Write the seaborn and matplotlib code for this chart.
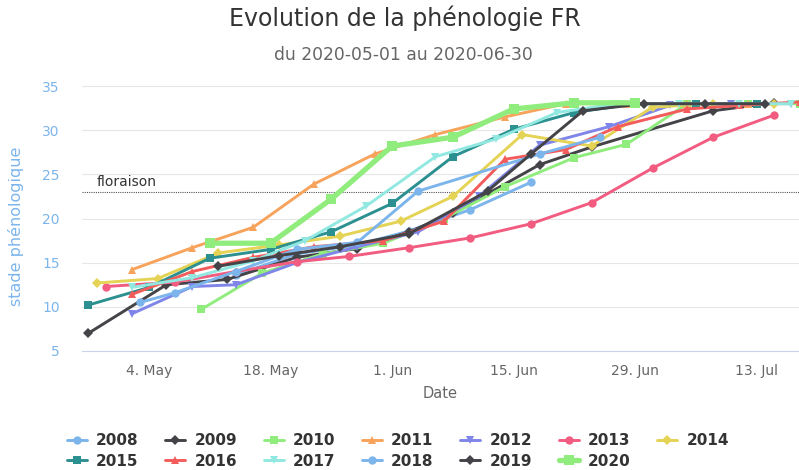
import pandas as pd
import numpy as np
import matplotlib.pyplot as plt
import matplotlib.dates as mdates
import matplotlib.transforms as mtransforms
from matplotlib.ticker import FixedLocator
import seaborn as sns

# Series values (dates are month-day, plotted on 2020)
years = ["2008", "2009", "2010", "2011", "2012", "2013", "2014",
         "2015", "2016", "2017", "2018", "2019", "2020"]

d2008 = ["05-14", "05-21", "05-28", "06-03", "06-10", "06-17"]
v2008 = [13.6, 16.0, 17.0, 18.6, 21.0, 24.1]

d2009 = ["04-27", "05-06", "05-13", "05-21", "05-28", "06-03", "06-08", "06-18", "06-24", "07-08", "07-15"]
v2009 = [7.0, 12.5, 13.1, 15.6, 16.6, 18.5, 20.6, 26.1, 28.1, 32.2, 33.1]

d2010 = ["05-10", "05-17", "05-24", "05-31", "06-07", "06-14", "06-22", "06-28", "07-05", "07-12", "07-18"]
v2010 = [9.7, 13.8, 16.0, 17.2, 20.0, 23.6, 26.9, 28.4, 33.0, 33.0, 33.0]

d2011 = ["05-02", "05-09", "05-16", "05-23", "05-30", "06-06", "06-14", "06-21", "06-28", "07-05", "07-12"]
v2011 = [14.2, 16.7, 19.0, 23.9, 27.3, 29.5, 31.5, 33.0, 33.0, 33.0, 33.0]

d2012 = ["05-02", "05-09", "05-14", "05-21", "05-28", "06-04", "06-11", "06-18", "06-26", "07-03", "07-10", "07-17"]
v2012 = [9.2, 12.3, 12.5, 15.0, 16.8, 18.5, 22.5, 28.3, 30.4, 32.8, 33.0, 33.0]

d2013 = ["04-29", "05-07", "05-14", "05-21", "05-27", "06-03", "06-10", "06-17", "06-24", "07-01", "07-08", "07-15"]
v2013 = [12.3, 12.8, 14.0, 15.1, 15.7, 16.7, 17.8, 19.4, 21.8, 25.7, 29.2, 31.7]

d2014 = ["04-28", "05-05", "05-12", "05-19", "05-26", "06-02", "06-08", "06-16", "06-24", "07-01", "07-08", "07-15"]
v2014 = [12.7, 13.2, 16.1, 17.0, 18.0, 19.7, 22.5, 29.5, 28.2, 32.6, 33.0, 33.0]

d2015 = ["04-27", "05-04", "05-11", "05-18", "05-25", "06-01", "06-08", "06-15", "06-22", "06-29", "07-06", "07-13"]
v2015 = [10.2, 12.2, 15.5, 16.5, 18.5, 21.7, 27.0, 30.1, 32.0, 33.0, 33.0, 33.0]

d2016 = ["05-02", "05-09", "05-16", "05-23", "05-31", "06-07", "06-14", "06-21", "06-27", "07-05", "07-11", "07-18"]
v2016 = [11.4, 14.0, 15.6, 16.8, 17.5, 19.7, 26.7, 27.8, 30.4, 32.4, 32.8, 33.2]

d2017 = ["05-02", "05-09", "05-16", "05-22", "05-29", "06-06", "06-13", "06-20", "06-27", "07-04", "07-11", "07-17"]
v2017 = [12.2, 13.3, 15.2, 17.5, 21.4, 27.0, 29.0, 32.0, 33.0, 33.0, 33.0, 33.0]

d2018 = ["05-03", "05-07", "05-14", "05-21", "05-28", "06-04", "06-18", "06-25"]
v2018 = [10.5, 11.6, 14.0, 16.5, 17.3, 23.1, 27.3, 29.2]

d2019 = ["05-12", "05-19", "05-26", "06-03", "06-12", "06-17", "06-23", "06-30", "07-07", "07-14"]
v2019 = [14.6, 15.8, 16.8, 18.3, 23.1, 27.3, 32.2, 33.0, 33.0, 33.0]

d2020 = ["05-11", "05-18", "05-25", "06-01", "06-08", "06-15", "06-22", "06-29"]
v2020 = [17.2, 17.2, 22.2, 28.2, 29.2, 32.4, 33.1, 33.1]

tick_dates = ["2020-05-04", "2020-05-18", "2020-06-01", "2020-06-15", "2020-06-29", "2020-07-13"]
tick_labels = ["4. May", "18. May", "1. Jun", "15. Jun", "29. Jun", "13. Jul"]

floraison = 23

all_dates = [d2008, d2009, d2010, d2011, d2012, d2013, d2014,
             d2015, d2016, d2017, d2018, d2019, d2020]
all_vals = [v2008, v2009, v2010, v2011, v2012, v2013, v2014,
            v2015, v2016, v2017, v2018, v2019, v2020]

rows = []
for yr, ds, vs in zip(years, all_dates, all_vals):
    for d, v in zip(ds, vs):
        rows.append({"annee": yr, "date": pd.Timestamp("2020-" + d), "stade": v})
df = pd.DataFrame(rows)

# Highcharts default look
colors = ["#7cb5ec", "#434348", "#90ed7d", "#f7a35c", "#8085e9", "#f15c80", "#e4d354",
          "#2b908f", "#f45b5b", "#91e8e1", "#7cb5ec", "#434348", "#90ed7d"]
marker_cycle = ["o", "D", "s", "^", "v"]

sns.set_style("white")
plt.rcParams["font.family"] = ["DejaVu Sans"]

fig = plt.figure(figsize=(7.99, 4.70), dpi=100)
ax = fig.add_axes([82 / 799, (470 - 351) / 470, 717 / 799, 265 / 470])

for i, yr in enumerate(years):
    sub = df[df["annee"] == yr]
    m = marker_cycle[i % 5]
    big = yr == "2020"
    ms = {"o": 6.0, "D": 4.8, "s": 5.4, "^": 6.2, "v": 6.2}[m]
    sns.lineplot(data=sub, x="date", y="stade", ax=ax, color=colors[i],
                 marker=m, markersize=ms * (1.35 if big else 1.0),
                 markeredgewidth=0, linewidth=3.8 if big else 2.1,
                 errorbar=None, legend=False, zorder=3 + i)

# floraison reference
ax.axhline(floraison, color="#555555", linewidth=0.8, linestyle=(0, (1, 1)), zorder=2)
trans = mtransforms.blended_transform_factory(ax.transAxes, ax.transData)
ax.text(0.02, floraison + 0.35, "floraison", transform=trans, fontsize=10,
        color="#333333", va="bottom", ha="left")

ax.set_xlim(pd.Timestamp("2020-04-26 06:45"), pd.Timestamp("2020-07-17 21:00"))
ax.set_ylim(5, 35)
ax.set_yticks([5, 10, 15, 20, 25, 30, 35])
ax.grid(axis="y", color="#e6e6e6", linewidth=0.8)
ax.grid(axis="x", visible=False)

ax.xaxis.set_major_locator(FixedLocator(mdates.date2num(pd.to_datetime(tick_dates))))
ax.set_xticklabels(tick_labels)
ax.tick_params(axis="x", length=7, width=0.8, color="#ccd6eb", labelsize=10,
               labelcolor="#666666", pad=2)
ax.tick_params(axis="y", length=0, labelsize=10, labelcolor="#7cb5ec", pad=16)

for s in ["top", "right", "left"]:
    ax.spines[s].set_visible(False)
ax.spines["bottom"].set_color("#ccd6eb")
ax.spines["bottom"].set_linewidth(0.8)

ax.set_xlabel("Date", fontsize=10.5, color="#666666", labelpad=6)
ax.set_ylabel("stade phénologique", fontsize=11.5, color="#7cb5ec")
ax.yaxis.set_label_coords(-0.081, 0.47)

fig.text(0.507, 1 - 18 / 470, "Evolution de la phénologie FR", ha="center", va="center",
         fontsize=17, color="#333333")
fig.text(0.505, 1 - 55 / 470, "du 2020-05-01 au 2020-06-30", ha="center", va="center",
         fontsize=12.3, color="#666666")

# legend in row-major order (7 per row)
handles = ax.get_lines()[:len(years)]
order = []
for c in range(7):
    order.append(c)
    if c + 7 < len(years):
        order.append(c + 7)
leg = fig.legend([handles[k] for k in order], [years[k] for k in order],
                 ncol=7, loc="center", bbox_to_anchor=(0.498, 1 - 451 / 470),
                 frameon=False, handlelength=1.3, handletextpad=0.6,
                 columnspacing=1.75, labelspacing=0.35, numpoints=1,
                 prop={"size": 11, "weight": "bold"})
for t in leg.get_texts():
    t.set_color("#333333")

fig.savefig("out.png", dpi=100)
